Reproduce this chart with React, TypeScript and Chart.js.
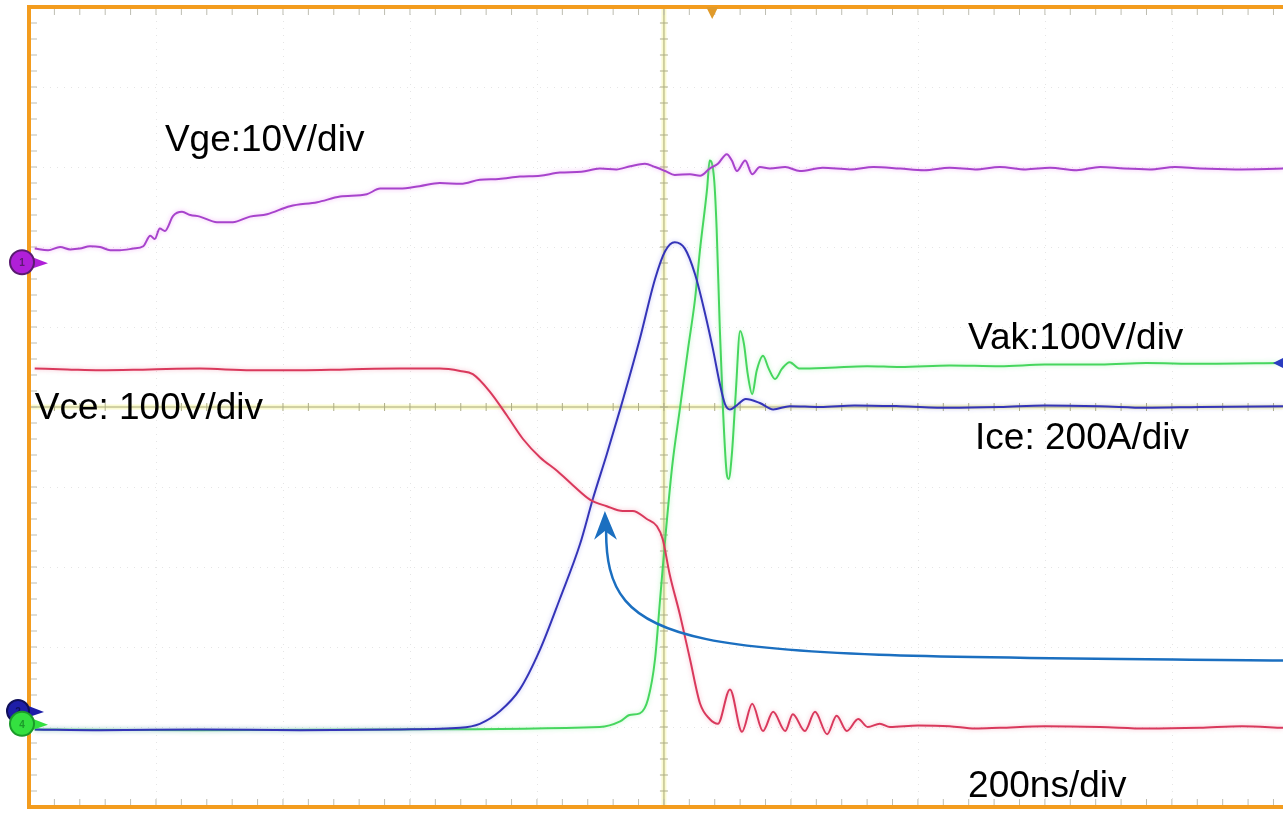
import React, { useEffect, useRef } from "react";
import { Chart, registerables } from "chart.js";

Chart.register(...registerables);

// time in ns (200 ns/div), amplitude in screen divisions (10 div full height)
const vgeTime = [9, 30, 49, 65, 80, 96, 112, 128, 143, 164, 180, 191, 198, 206, 214, 227, 241, 254, 269, 296, 321, 348, 375, 411, 454, 490, 532, 553, 584, 615, 647, 680, 710, 740, 773, 805, 836, 870, 899, 925, 947, 970, 986, 1002, 1017, 1041, 1057, 1072, 1085, 1099, 1107, 1115, 1128, 1139, 1151, 1167, 1191, 1214, 1250, 1293, 1330, 1372, 1410, 1450, 1490, 1529, 1570, 1608, 1650, 1687, 1725, 1765, 1805, 1844, 1900, 1975];
const vgeDiv = [1.98, 1.96, 2.0, 1.97, 1.98, 2.01, 2.0, 1.96, 1.96, 1.98, 2.01, 2.14, 2.1, 2.23, 2.2, 2.39, 2.44, 2.4, 2.38, 2.31, 2.31, 2.38, 2.41, 2.51, 2.56, 2.63, 2.66, 2.73, 2.73, 2.76, 2.8, 2.79, 2.84, 2.85, 2.88, 2.89, 2.93, 2.94, 2.98, 2.97, 3.01, 3.04, 3.0, 2.95, 2.9, 2.91, 2.89, 2.98, 3.04, 3.16, 3.08, 2.95, 3.08, 2.91, 3.0, 2.98, 3.0, 2.95, 2.99, 2.97, 3.0, 2.98, 2.96, 2.99, 2.97, 3.0, 2.97, 2.99, 2.96, 3.0, 2.98, 2.97, 3.0, 2.98, 2.97, 2.98];

const vceTime = [9, 60, 112, 190, 269, 350, 427, 500, 584, 647, 679, 699, 726, 753, 778, 805, 832, 857, 884, 910, 935, 951, 973, 989, 998, 1009, 1025, 1041, 1057, 1072, 1085, 1104, 1123, 1139, 1156, 1172, 1191, 1203, 1222, 1238, 1257, 1272, 1288, 1306, 1321, 1340, 1356, 1400, 1450, 1490, 1529, 1600, 1687, 1760, 1844, 1910, 1975];
const vceDiv = [0.48, 0.47, 0.46, 0.47, 0.48, 0.46, 0.46, 0.47, 0.48, 0.48, 0.45, 0.41, 0.19, -0.11, -0.4, -0.63, -0.8, -0.98, -1.16, -1.24, -1.3, -1.3, -1.4, -1.49, -1.65, -2.09, -2.59, -3.15, -3.71, -3.9, -3.96, -3.53, -4.06, -3.71, -4.05, -3.81, -4.05, -3.84, -4.05, -3.81, -4.09, -3.86, -4.05, -3.9, -4.0, -3.96, -4.0, -3.98, -3.99, -4.02, -4.01, -3.99, -4.0, -4.02, -4.01, -3.99, -4.01];

const iceTime = [9, 112, 269, 427, 584, 679, 710, 742, 773, 805, 836, 868, 888, 910, 931, 962, 986, 1002, 1017, 1033, 1049, 1065, 1077, 1088, 1096, 1104, 1113, 1129, 1151, 1172, 1198, 1246, 1300, 1372, 1450, 1529, 1600, 1687, 1760, 1844, 1975];
const iceDiv = [-4.03, -4.04, -4.03, -4.04, -4.03, -4.01, -3.96, -3.8, -3.53, -3.03, -2.4, -1.71, -1.15, -0.59, -0.03, 0.85, 1.6, 1.95, 2.06, 1.98, 1.66, 1.16, 0.73, 0.29, 0.04, -0.03, 0.01, 0.1, 0.05, -0.03, 0.01, 0.0, 0.02, 0.01, -0.01, 0.0, 0.02, 0.01, -0.01, 0.0, 0.01];

const vakTime = [9, 269, 584, 899, 931, 946, 962, 975, 986, 994, 1002, 1013, 1025, 1038, 1049, 1057, 1068, 1072, 1079, 1083, 1088, 1093, 1099, 1102, 1107, 1113, 1120, 1126, 1132, 1139, 1146, 1156, 1165, 1175, 1186, 1198, 1214, 1261, 1320, 1372, 1450, 1529, 1600, 1687, 1760, 1844, 1975];
const vakDiv = [-4.03, -4.04, -4.03, -4.0, -3.93, -3.85, -3.83, -3.65, -3.15, -2.4, -1.65, -0.74, -0.03, 0.73, 1.35, 1.98, 2.73, 3.08, 2.85, 2.23, 0.98, -0.03, -0.84, -0.9, -0.59, 0.16, 0.95, 0.79, 0.41, 0.16, 0.45, 0.64, 0.48, 0.35, 0.48, 0.56, 0.48, 0.49, 0.51, 0.5, 0.52, 0.51, 0.53, 0.53, 0.55, 0.54, 0.55];

const labelTexts = ["Vge:10V/div", "Vce: 100V/div", "Vak:100V/div", "Ice: 200A/div", "200ns/div"];
const labelTime = [214, 9, 1479, 1490, 1479];
const labelDiv = [3.2, -0.15, 0.725, -0.525, -4.875];

// ground reference markers (div)
const ch1Ground = 1.81;
const ch2Ground = -3.8;
const ch4Ground = -3.96;
const triggerTime = 1076;

// annotation arrow (time ns, div)
const arrowTime = [1990, 1057, 905, 909];
const arrowDiv = [-3.17, -3.09, -3.21, -1.5];
const arrowHeadTime = [907, 890, 907, 926];
const arrowHeadDiv = [-1.3, -1.66, -1.55, -1.66];

const X_MAX = 1975;

const glowColors = ["rgba(230,120,240,0.55)", "rgba(240,120,150,0.5)", "rgba(120,120,230,0.45)", "rgba(120,240,140,0.5)"];

const pts = (t: number[], v: number[]) => t.map((x, i) => ({ x, y: v[i] }));

const glowPlugin = {
  id: "glow",
  beforeDatasetDraw(chart: any, args: any) {
    const ctx = chart.ctx;
    ctx.save();
    ctx.shadowColor = glowColors[args.index] || "rgba(0,0,0,0)";
    ctx.shadowBlur = 4;
  },
  afterDatasetDraw(chart: any) {
    chart.ctx.restore();
  },
};

const scopePlugin = {
  id: "scope",
  beforeDatasetsDraw(chart: any) {
    const { ctx, chartArea: a, scales } = chart;
    const xs = scales.x;
    const ys = scales.y;
    ctx.save();
    ctx.fillStyle = "#ffffff";
    ctx.fillRect(0, 0, chart.width, chart.height);
    // dotted grid
    ctx.strokeStyle = "rgba(190,190,190,0.4)";
    ctx.lineWidth = 1;
    ctx.setLineDash([1, 6]);
    for (let i = 1; i <= 9; i++) {
      if (i === 5) continue;
      const x = Math.round(xs.getPixelForValue(i * 200)) + 0.5;
      ctx.beginPath();
      ctx.moveTo(x, a.top);
      ctx.lineTo(x, a.bottom);
      ctx.stroke();
    }
    for (let j = -4; j <= 4; j++) {
      if (j === 0) continue;
      const y = Math.round(ys.getPixelForValue(j)) + 0.5;
      ctx.beginPath();
      ctx.moveTo(a.left, y);
      ctx.lineTo(a.right, y);
      ctx.stroke();
    }
    ctx.setLineDash([]);
    // center lines
    const cx = xs.getPixelForValue(1000);
    const cy = ys.getPixelForValue(0);
    ctx.strokeStyle = "rgba(245,245,170,0.55)";
    ctx.lineWidth = 5;
    ctx.beginPath();
    ctx.moveTo(cx, a.top);
    ctx.lineTo(cx, a.bottom);
    ctx.moveTo(a.left, cy);
    ctx.lineTo(a.right, cy);
    ctx.stroke();
    ctx.strokeStyle = "#C4C494";
    ctx.lineWidth = 1.5;
    ctx.beginPath();
    ctx.moveTo(cx, a.top);
    ctx.lineTo(cx, a.bottom);
    ctx.moveTo(a.left, cy);
    ctx.lineTo(a.right, cy);
    ctx.stroke();
    // center ticks
    ctx.strokeStyle = "#ADAD88";
    ctx.lineWidth = 1;
    ctx.beginPath();
    for (let k = -25; k <= 25; k++) {
      const y = ys.getPixelForValue(k * 0.2);
      ctx.moveTo(cx - 4, y);
      ctx.lineTo(cx + 4, y);
    }
    for (let k = 1; k <= 49; k++) {
      const x = xs.getPixelForValue(k * 40);
      ctx.moveTo(x, cy - 4);
      ctx.lineTo(x, cy + 4);
    }
    ctx.stroke();
    // border ticks
    ctx.strokeStyle = "#BDBDB2";
    ctx.beginPath();
    for (let k = -24; k <= 24; k++) {
      const y = ys.getPixelForValue(k * 0.2);
      ctx.moveTo(a.left + 2, y);
      ctx.lineTo(a.left + 8, y);
    }
    for (let k = 1; k <= 49; k++) {
      const x = xs.getPixelForValue(k * 40);
      ctx.moveTo(x, a.top + 2);
      ctx.lineTo(x, a.top + 8);
      ctx.moveTo(x, a.bottom - 8);
      ctx.lineTo(x, a.bottom - 2);
    }
    ctx.stroke();
    ctx.restore();
  },
  afterDatasetsDraw(chart: any) {
    const { ctx, chartArea: a, scales } = chart;
    const xs = scales.x;
    const ys = scales.y;
    const px = (t: number) => xs.getPixelForValue(t);
    const py = (v: number) => ys.getPixelForValue(v);
    ctx.save();
    // orange frame
    ctx.strokeStyle = "#F39C1E";
    ctx.lineWidth = 4;
    ctx.beginPath();
    ctx.moveTo(chart.width + 5, a.top);
    ctx.lineTo(a.left, a.top);
    ctx.lineTo(a.left, a.bottom);
    ctx.lineTo(chart.width + 5, a.bottom);
    ctx.stroke();
    // trigger marker
    const tx = px(triggerTime);
    ctx.fillStyle = "#E09A2A";
    ctx.beginPath();
    ctx.moveTo(tx - 6, a.top);
    ctx.lineTo(tx + 6, a.top);
    ctx.lineTo(tx, a.top + 12);
    ctx.closePath();
    ctx.fill();
    // right level marker
    const ry = py(vakDiv[vakDiv.length - 1]);
    ctx.fillStyle = "#2A3CC0";
    ctx.beginPath();
    ctx.moveTo(chart.width - 10, ry);
    ctx.lineTo(chart.width, ry - 5);
    ctx.lineTo(chart.width, ry + 5);
    ctx.closePath();
    ctx.fill();
    // left ground markers
    const marker = (yv: number, fill: string, stroke: string, label: string, dx: number, r: number) => {
      const y = py(yv);
      const x = a.left - 7 + dx;
      ctx.fillStyle = fill;
      ctx.beginPath();
      ctx.moveTo(x + 8, y - 6);
      ctx.lineTo(x + 26, y + 1);
      ctx.lineTo(x + 8, y + 7);
      ctx.closePath();
      ctx.fill();
      ctx.beginPath();
      ctx.arc(x, y, r, 0, Math.PI * 2);
      ctx.fill();
      ctx.strokeStyle = stroke;
      ctx.lineWidth = 2;
      ctx.stroke();
      ctx.fillStyle = stroke;
      ctx.font = "bold 10px 'Liberation Sans'";
      ctx.textAlign = "center";
      ctx.textBaseline = "middle";
      ctx.fillText(label, x, y + 1);
    };
    marker(ch1Ground, "#B01FD8", "#5A1A70", "1", 0, 12);
    marker(ch2Ground, "#1E1EA8", "#10105A", "2", -4, 11);
    marker(ch4Ground, "#34E040", "#1B9A2A", "4", 0, 12);
    // arrow annotation
    ctx.strokeStyle = "#1B6FC0";
    ctx.fillStyle = "#1B6FC0";
    ctx.lineWidth = 2.5;
    ctx.beginPath();
    ctx.moveTo(px(arrowTime[0]), py(arrowDiv[0]));
    ctx.bezierCurveTo(px(arrowTime[1]), py(arrowDiv[1]), px(arrowTime[2]), py(arrowDiv[2]), px(arrowTime[3]), py(arrowDiv[3]));
    ctx.stroke();
    ctx.beginPath();
    ctx.moveTo(px(arrowHeadTime[0]), py(arrowHeadDiv[0]));
    ctx.lineTo(px(arrowHeadTime[1]), py(arrowHeadDiv[1]));
    ctx.lineTo(px(arrowHeadTime[2]), py(arrowHeadDiv[2]));
    ctx.lineTo(px(arrowHeadTime[3]), py(arrowHeadDiv[3]));
    ctx.closePath();
    ctx.fill();
    // labels
    ctx.fillStyle = "#000000";
    ctx.font = "37px 'Liberation Sans', Arial, sans-serif";
    ctx.textAlign = "left";
    ctx.textBaseline = "alphabetic";
    labelTexts.forEach((s, i) => {
      ctx.fillText(s, px(labelTime[i]), py(labelDiv[i]));
    });
    ctx.restore();
  },
};

export default function App() {
  const ref = useRef<HTMLCanvasElement | null>(null);
  useEffect(() => {
    if (!ref.current) return;
    const line = (label: string, t: number[], v: number[], color: string) => ({
      label,
      data: pts(t, v),
      borderColor: color,
      borderWidth: 2,
      pointRadius: 0,
      fill: false,
      cubicInterpolationMode: "monotone" as const,
    });
    const chart = new Chart(ref.current, {
      type: "line",
      data: {
        datasets: [
          line("Vge", vgeTime, vgeDiv, "#A743CC"),
          line("Vce", vceTime, vceDiv, "#D9395C"),
          line("Ice", iceTime, iceDiv, "#3434B8"),
          line("Vak", vakTime, vakDiv, "#46D65E"),
        ],
      },
      options: {
        animation: false,
        responsive: false,
        maintainAspectRatio: false,
        parsing: false,
        layout: { padding: { left: 29, top: 7, right: 0, bottom: 9 } },
        plugins: { legend: { display: false }, tooltip: { enabled: false }, title: { display: false } },
        scales: {
          x: { type: "linear", min: 0, max: X_MAX, display: false },
          y: { type: "linear", min: -5, max: 5, display: false },
        },
      },
      plugins: [scopePlugin, glowPlugin],
    });
    return () => chart.destroy();
  }, []);
  return (
    <div style={{ position: "fixed", left: 0, top: 0, width: 1283, height: 816, background: "#fff" }}>
      <canvas ref={ref} width={1283} height={816} style={{ display: "block" }} />
    </div>
  );
}
